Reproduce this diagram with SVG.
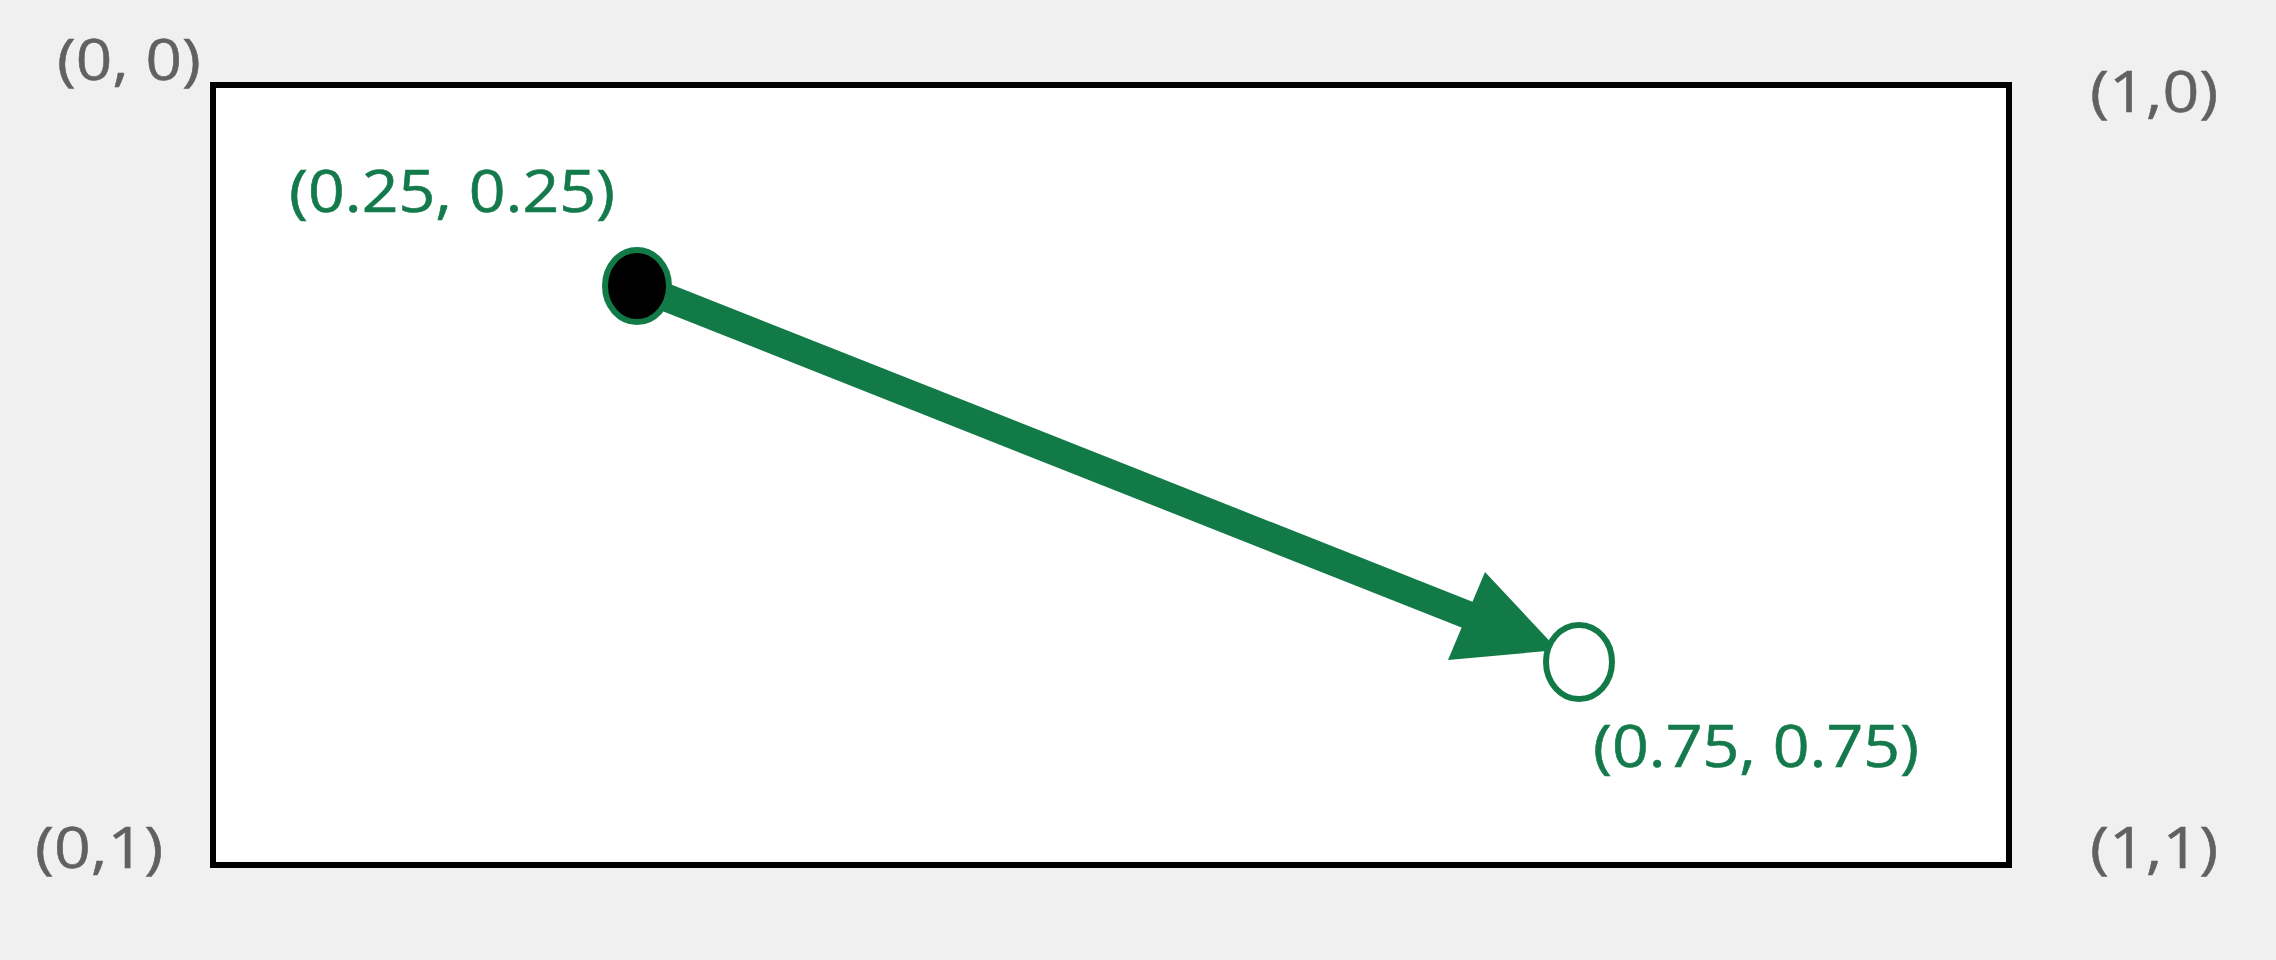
<svg xmlns="http://www.w3.org/2000/svg" width="2276" height="960" viewBox="0 0 2276 960">
  <style>
    .corner { font-family: "Open Sans", "Noto Sans", "Liberation Sans", sans-serif; font-size: 56px; fill: #616161; stroke: #616161; stroke-width: 0.5px; }
    .pt { font-family: "Open Sans", "Noto Sans", "Liberation Sans", sans-serif; font-size: 58px; fill: #147a4c; stroke: #147a4c; stroke-width: 0.6px; }
    .green { fill: #117a47; }
  </style>
  <rect x="0" y="0" width="2276" height="960" fill="#f0f0f0"/>
  <g id="frame">
    <rect x="213" y="85" width="1796" height="780" fill="#ffffff" stroke="#000000" stroke-width="6"/>
  </g>
  <g id="corner-labels">
    <text class="corner" transform="translate(57,80) scale(1.14,1)">(0, 0)</text>
    <text class="corner" transform="translate(2090,112) scale(1.15,1)">(1,0)</text>
    <text class="corner" transform="translate(35,868) scale(1.15,1)">(0,1)</text>
    <text class="corner" transform="translate(2090,868) scale(1.15,1)">(1,1)</text>
  </g>
  <g id="connectors">
    <line x1="637" y1="286" x2="1478" y2="619" stroke="#117a47" stroke-width="28"/>
    <polygon class="green" points="1558,650 1485,572 1448,660"/>
  </g>
  <g id="start-point">
    <ellipse cx="637" cy="286" rx="32" ry="36" fill="#000000" stroke="#117a47" stroke-width="6"/>
    <text class="pt" transform="translate(289,212) scale(1.11,1)">(0.25, 0.25)</text>
  </g>
  <g id="end-point">
    <ellipse cx="1579" cy="662" rx="33" ry="37" fill="#ffffff" stroke="#117a47" stroke-width="6"/>
    <text class="pt" transform="translate(1593,767) scale(1.11,1)">(0.75, 0.75)</text>
  </g>
</svg>
